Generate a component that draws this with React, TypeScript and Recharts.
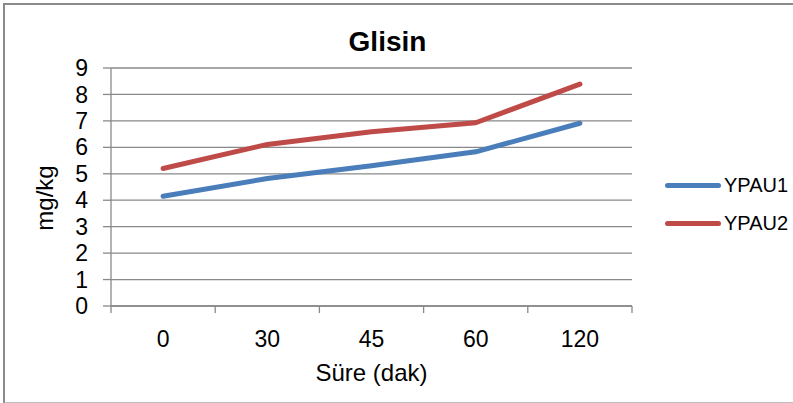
import { LineChart, Line, XAxis, YAxis, CartesianGrid, Legend, Label } from "recharts";

const sureler = ["0", "30", "45", "60", "120"];
const ypau1 = [4.15, 4.82, 5.3, 5.83, 6.91];
const ypau2 = [5.2, 6.11, 6.59, 6.93, 8.39];
const yTicks = [0, 1, 2, 3, 4, 5, 6, 7, 8, 9];

const W = 793;
const H = 403;
const PLOT_LEFT = 111;
const PLOT_RIGHT = 632;
const PLOT_TOP = 68;
const PLOT_BOTTOM = 306;
const BAND = (PLOT_RIGHT - PLOT_LEFT) / sureler.length;

const BLUE = "#4A7EBB";
const RED = "#BE4B48";
const GRID = "#898989";
const FONT = "'Liberation Sans', Arial, sans-serif";

const data = sureler.map((s, i) => ({ sure: s, YPAU1: ypau1[i], YPAU2: ypau2[i] }));

// category labels centred in each band, tick marks on the band edges
const XTick = (props: any) => {
  const { x, y, payload, index } = props;
  const last = index === sureler.length - 1;
  return (
    <g>
      <line x1={x - BAND / 2} x2={x - BAND / 2} y1={y} y2={y + 7} stroke={GRID} strokeWidth={1.3} />
      {last && <line x1={x + BAND / 2} x2={x + BAND / 2} y1={y} y2={y + 7} stroke={GRID} strokeWidth={1.3} />}
      <text x={x} y={y + 41} textAnchor="middle" fontSize={23} fill="#000" fontFamily={FONT}>
        {payload.value}
      </text>
    </g>
  );
};

const LegendBox = () => (
  <div style={{ fontFamily: FONT, fontSize: 20, color: "#000" }}>
    {[
      { name: "YPAU1", color: BLUE },
      { name: "YPAU2", color: RED },
    ].map((it) => (
      <div key={it.name} style={{ display: "flex", alignItems: "center", height: 38, lineHeight: "38px" }}>
        <span style={{ display: "inline-block", width: 56, height: 5, borderRadius: 3, background: it.color, marginRight: 3 }} />
        <span>{it.name}</span>
      </div>
    ))}
  </div>
);

export default function App() {
  return (
    <div style={{ position: "absolute", left: 0, top: 0, width: W, height: H, background: "#fff" }}>
      {/* chart frame: left, top and bottom edges only */}
      <div
        style={{
          position: "absolute",
          left: 3,
          top: 3,
          width: W,
          height: 397,
          borderLeft: "2px solid #8a8a8a",
          borderTop: "2px solid #8a8a8a",
          borderBottom: "2px solid #bdbdbd",
        }}
      />
      <div
        style={{
          position: "absolute",
          left: 0,
          top: 26,
          width: 775,
          textAlign: "center",
          fontFamily: FONT,
          fontWeight: "bold",
          fontSize: 28,
          lineHeight: "32px",
        }}
      >
        Glisin
      </div>
      <div style={{ position: "absolute", left: 0, top: 0 }}>
        <LineChart
          width={W}
          height={H}
          data={data}
          margin={{ top: PLOT_TOP, right: W - PLOT_RIGHT, bottom: 0, left: 0 }}
        >
          <CartesianGrid vertical={false} stroke={GRID} strokeWidth={1.3} />
          <XAxis
            dataKey="sure"
            height={H - PLOT_BOTTOM}
            padding={{ left: BAND / 2, right: BAND / 2 }}
            axisLine={{ stroke: GRID, strokeWidth: 1.3 }}
            tickLine={false}
            tickSize={0}
            tickMargin={0}
            interval={0}
            tick={<XTick />}
          >
            <Label
              content={(p: any) => {
                const vb = p.viewBox;
                return (
                  <text
                    x={vb.x + vb.width / 2}
                    y={vb.y + 75}
                    textAnchor="middle"
                    fontSize={24}
                    fontFamily={FONT}
                    fill="#000"
                  >
                    Süre (dak)
                  </text>
                );
              }}
            />
          </XAxis>
          <YAxis
            width={PLOT_LEFT}
            domain={[0, 9]}
            ticks={yTicks}
            interval={0}
            axisLine={{ stroke: GRID, strokeWidth: 1.3 }}
            tickLine={{ stroke: GRID, strokeWidth: 1.3 }}
            tickSize={8}
            tickMargin={15}
            tick={{ fontSize: 23, fill: "#000", fontFamily: FONT }}
          >
            <Label
              content={() => (
                <text
                  x={53}
                  y={198}
                  textAnchor="middle"
                  transform="rotate(-90, 53, 198)"
                  fontSize={24}
                  fontFamily={FONT}
                  fill="#000"
                >
                  mg/kg
                </text>
              )}
            />
          </YAxis>
          <Line
            dataKey="YPAU1"
            type="linear"
            stroke={BLUE}
            strokeWidth={5}
            strokeLinecap="round"
            strokeLinejoin="round"
            dot={false}
            activeDot={false}
            isAnimationActive={false}
          />
          <Line
            dataKey="YPAU2"
            type="linear"
            stroke={RED}
            strokeWidth={5}
            strokeLinecap="round"
            strokeLinejoin="round"
            dot={false}
            activeDot={false}
            isAnimationActive={false}
          />
          <Legend
            layout="vertical"
            align="center"
            verticalAlign="middle"
            content={<LegendBox />}
            wrapperStyle={{ position: "absolute", left: 665, top: 166, width: 128 }}
          />
        </LineChart>
      </div>
    </div>
  );
}
